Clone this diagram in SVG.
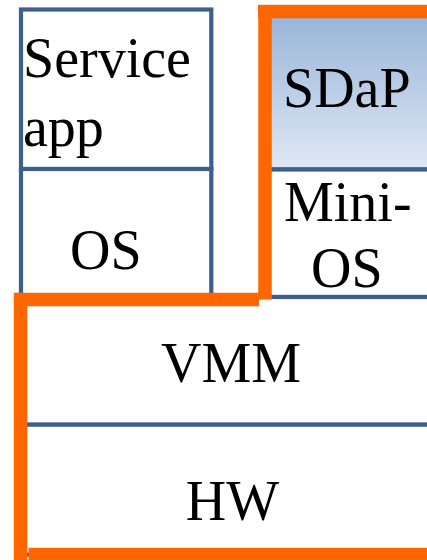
<svg xmlns="http://www.w3.org/2000/svg" width="427" height="560" viewBox="0 0 427 560">
  <defs>
    <linearGradient id="sdapFill" x1="0" y1="0" x2="0" y2="1">
      <stop offset="0" stop-color="#96b3d8"/>
      <stop offset="1" stop-color="#e0e8f4"/>
    </linearGradient>
    <style>
      .box { fill: #ffffff; stroke: #3c5f8e; stroke-width: 4.2; }
      .lbl { font-family: "Liberation Serif", "Times New Roman", serif; font-size: 56px; fill: #000000; }
      .hl { stroke: #ff6600; stroke-width: 13.5; fill: none; stroke-linecap: butt; }
    </style>
  </defs>
  <rect x="0" y="0" width="427" height="560" fill="#ffffff"/>

  <g id="service-app">
    <rect class="box" x="21" y="9.5" width="190.3" height="159.5"/>
    <text class="lbl" x="23" y="77">Service</text>
    <text class="lbl" x="23" y="146">app</text>
  </g>

  <g id="os">
    <rect class="box" x="21" y="169" width="190.3" height="130"/>
    <text class="lbl" x="70" y="269">OS</text>
  </g>

  <g id="sdap">
    <rect class="box" x="265" y="11" width="200" height="158.5" style="fill:url(#sdapFill)"/>
    <text class="lbl" x="283" y="107">SDaP</text>
  </g>

  <g id="mini-os">
    <rect class="box" x="265" y="169.5" width="200" height="127.5"/>
    <text class="lbl" x="284" y="221">Mini-</text>
    <text class="lbl" x="311" y="287">OS</text>
  </g>

  <g id="vmm">
    <rect class="box" x="20" y="297" width="425" height="127.7"/>
    <text class="lbl" x="231" y="382" text-anchor="middle">VMM</text>
  </g>

  <g id="hw">
    <rect class="box" x="20" y="424.7" width="425" height="130"/>
    <text class="lbl" x="232.5" y="519.5" text-anchor="middle">HW</text>
  </g>

  <g id="connectors">
    <line class="hl" x1="265" y1="5" x2="265" y2="299.5"/>
    <line class="hl" x1="258" y1="11.5" x2="440" y2="11.5"/>
    <line class="hl" x1="14" y1="299.5" x2="259" y2="299.5"/>
    <line class="hl" x1="20.5" y1="293" x2="20.5" y2="562"/>
    <line class="hl" x1="28.5" y1="554.5" x2="440" y2="554.5"/>
  </g>
</svg>
